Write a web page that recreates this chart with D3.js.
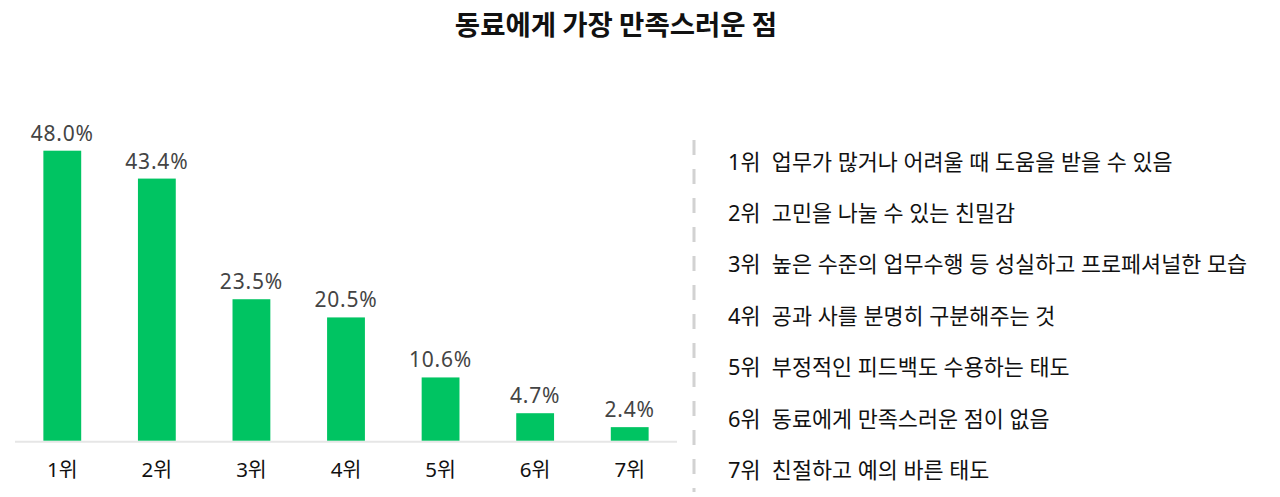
<!DOCTYPE html>
<html><head><meta charset="utf-8">
<script src="https://cdn.jsdelivr.net/npm/d3@7"></script>
<style>
html,body{margin:0;padding:0;background:#fff;}
svg{display:block;font-family:"Noto Sans","Noto Sans CJK KR",sans-serif;}
</style></head>
<body><svg id="c" width="1280" height="497"></svg>
<script>
const title = "동료에게 가장 만족스러운 점";
const categories = ["1위","2위","3위","4위","5위","6위","7위"];
const values = [48.0, 43.4, 23.5, 20.5, 10.6, 4.7, 2.4];
const descriptions = [
  "업무가 많거나 어려울 때 도움을 받을 수 있음",
  "고민을 나눌 수 있는 친밀감",
  "높은 수준의 업무수행 등 성실하고 프로페셔널한 모습",
  "공과 사를 분명히 구분해주는 것",
  "부정적인 피드백도 수용하는 태도",
  "동료에게 만족스러운 점이 없음",
  "친절하고 예의 바른 태도"
];

const svg = d3.select("#c");
const baseY = 441.7;
const x = d3.scaleBand().domain(categories).range([15, 677]).paddingInner(0.6).paddingOuter(0.3);
const y = d3.scaleLinear().domain([0, 48]).range([baseY, 150.7]);

svg.append("text").attr("x", 616).attr("y", 35).attr("text-anchor", "middle")
  .attr("font-size", 27.5).attr("font-weight", 700).attr("fill", "#111")
  .attr("font-family", "'Noto Sans CJK KR',sans-serif").text(title);

svg.append("line").attr("x1", 15).attr("x2", 677).attr("y1", baseY).attr("y2", baseY)
  .attr("stroke", "#e6e6e6").attr("stroke-width", 2);

svg.selectAll("rect.bar").data(values).join("rect").attr("class", "bar")
  .attr("x", (d, i) => x(categories[i])).attr("width", x.bandwidth())
  .attr("y", d => y(d)).attr("height", d => baseY - 1 - y(d))
  .attr("fill", "#00c462");

svg.selectAll("text.val").data(values).join("text").attr("class", "val")
  .attr("x", (d, i) => x(categories[i]) + x.bandwidth() / 2)
  .attr("y", d => y(d) - 10).attr("text-anchor", "middle")
  .attr("font-size", 21).attr("letter-spacing", 0.8).attr("fill", "#444")
  .text(d => d.toFixed(1) + "%");

const xAxis = d3.axisBottom(x).tickSize(0).tickPadding(0);
const gx = svg.append("g").attr("transform", `translate(0,${baseY})`).call(xAxis);
gx.select(".domain").remove();
gx.selectAll("text").attr("dy", null).attr("y", 35.5).attr("font-size", 20.5)
  .attr("fill", "#111").attr("font-family", "'Noto Sans','Noto Sans CJK KR',sans-serif");

svg.append("line").attr("x1", 694).attr("x2", 694).attr("y1", 140).attr("y2", 492)
  .attr("stroke", "#d2d2d2").attr("stroke-width", 3).attr("stroke-dasharray", "15,14");

const ly = d3.scalePoint().domain(categories).range([169.5, 477.9]);
svg.selectAll("text.leg").data(categories).join("text").attr("class", "leg")
  .attr("x", 728).attr("y", d => ly(d)).attr("font-size", 21.8).attr("fill", "#111")
  .attr("xml:space", "preserve")
  .text((d, i) => d + "  " + descriptions[i]);
</script></body></html>
